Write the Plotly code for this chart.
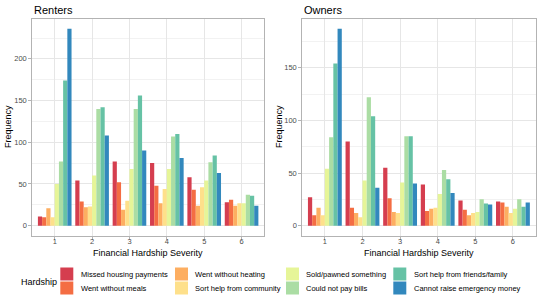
import plotly.graph_objects as go

severity = [1, 2, 3, 4, 5, 6]
hardships = ["Missed housing payments", "Went without meals", "Went without heating",
             "Sort help from community", "Sold/pawned something", "Could not pay bills",
             "Sort help from friends/family", "Cannot raise emergency money"]
colors = ["#D53E4F", "#F46D43", "#FDAE61", "#FEE08B", "#E6F598", "#ABDDA4", "#66C2A5", "#3288BD"]

renters_missed = [11, 54, 77, 75, 58, 28]
renters_meals = [10, 29, 52, 48, 43, 31]
renters_heating = [21, 22, 19, 27, 24, 24]
renters_community = [10, 23, 30, 44, 46, 27]
renters_sold = [50, 60, 68, 68, 54, 27]
renters_bills = [77, 140, 140, 107, 76, 37]
renters_friends = [174, 142, 156, 110, 84, 36]
renters_emergency = [236, 108, 90, 81, 63, 24]

owners_missed = [27, 80, 55, 39, 24, 23]
owners_meals = [10, 17, 26, 14, 15, 22]
owners_heating = [17, 12, 13, 16, 10, 18]
owners_community = [10, 8, 12, 17, 12, 12]
owners_sold = [54, 43, 41, 30, 13, 16]
owners_bills = [84, 122, 85, 53, 25, 25]
owners_friends = [154, 104, 85, 44, 21, 18]
owners_emergency = [187, 36, 40, 31, 20, 22]

renters = [renters_missed, renters_meals, renters_heating, renters_community,
           renters_sold, renters_bills, renters_friends, renters_emergency]
owners = [owners_missed, owners_meals, owners_heating, owners_community,
          owners_sold, owners_bills, owners_friends, owners_emergency]

W, H = 540, 300
FONT = "Liberation Sans"


def px(x):
    return x / W


def py(y):
    return 1 - y / H


fig = go.Figure()
for i, name in enumerate(hardships):
    fig.add_trace(go.Bar(x=severity, y=renters[i], name=name, marker_color=colors[i],
                         marker_line_width=0, xaxis="x", yaxis="y", showlegend=False,
                         offsetgroup=str(i)))
    fig.add_trace(go.Bar(x=severity, y=owners[i], name=name, marker_color=colors[i],
                         marker_line_width=0, xaxis="x2", yaxis="y2", showlegend=False,
                         offsetgroup=str(i)))

axis_common = dict(
    showline=True, mirror=True, linecolor="#b3b3b3", linewidth=1,
    ticks="outside", ticklen=3, tickcolor="#b3b3b3", tickwidth=1,
    tickfont=dict(family=FONT, size=7.5, color="#4d4d4d"),
    gridcolor="#e6e6e6", gridwidth=1, zeroline=False,
)

ytop, ybot = 19, 235.5
fig.update_layout(
    width=W, height=H, margin=dict(l=0, r=0, t=0, b=0),
    paper_bgcolor="white", plot_bgcolor="white",
    barmode="group", bargap=0.1, bargroupgap=0,
    font=dict(family=FONT),
    xaxis=dict(domain=[px(32.3), px(264)], range=[0.4, 6.6], tickvals=severity,
               anchor="y", ticklabelstandoff=-5, **axis_common),
    yaxis=dict(domain=[py(ybot), py(ytop)], range=[-11.8, 247.8], tickvals=[0, 50, 100, 150, 200],
               anchor="x", minor=dict(dtick=25, tick0=0, showgrid=True, gridcolor="#f2f2f2",
                                      gridwidth=0.6, ticks=""),
               **axis_common),
    xaxis2=dict(domain=[px(302.3), px(535.5)], range=[0.4, 6.6], tickvals=severity,
                anchor="y2", ticklabelstandoff=-5, **axis_common),
    yaxis2=dict(domain=[py(ybot), py(ytop)], range=[-9.35, 196.35], tickvals=[0, 50, 100, 150],
                anchor="x2", minor=dict(dtick=25, tick0=0, showgrid=True, gridcolor="#f2f2f2",
                                        gridwidth=0.6, ticks=""),
                **axis_common),
)

ann = []
# panel titles
ann.append(dict(text="Renters", x=px(32), y=py(10), xanchor="left", yanchor="middle",
                font=dict(size=11, color="black")))
ann.append(dict(text="Owners", x=px(302), y=py(10), xanchor="left", yanchor="middle",
                font=dict(size=11, color="black")))
# axis titles
for cx in [148, 419]:
    ann.append(dict(text="Financial Hardship Severity", x=px(cx), y=py(252.5), xanchor="center",
                    yanchor="middle", font=dict(size=9, color="black")))
for cx in [8, 279]:
    ann.append(dict(text="Frequency", x=px(cx), y=py(127), xanchor="center", yanchor="middle",
                    textangle=-90, font=dict(size=9, color="black")))
# legend
ann.append(dict(text="Hardship", x=px(19), y=py(281.5), xanchor="left", yanchor="middle",
                font=dict(size=9, color="black")))
shapes = []
key_cols = [(60.3, 79), (175, 193.3), (286, 304), (393.3, 411.7)]
key_rows = [(267.5, 280.5), (281.5, 294.5)]
for i, name in enumerate(hardships):
    c, r = divmod(i, 2)
    kx, tx = key_cols[c]
    y0, y1 = key_rows[r]
    shapes.append(dict(type="rect", xref="paper", yref="paper", x0=px(kx), x1=px(kx + 13),
                       y0=py(y1), y1=py(y0), fillcolor=colors[i], line=dict(width=0)))
    ann.append(dict(text=name, x=px(tx), y=py((y0 + y1) / 2), xanchor="left", yanchor="middle",
                    font=dict(size=7.5, color="black")))

for a in ann:
    a.update(xref="paper", yref="paper", showarrow=False)
fig.update_layout(annotations=ann, shapes=shapes)

fig.write_html("out.html", config={"displayModeBar": False},
               post_script="document.body.style.margin='0';document.body.style.padding='0';")
